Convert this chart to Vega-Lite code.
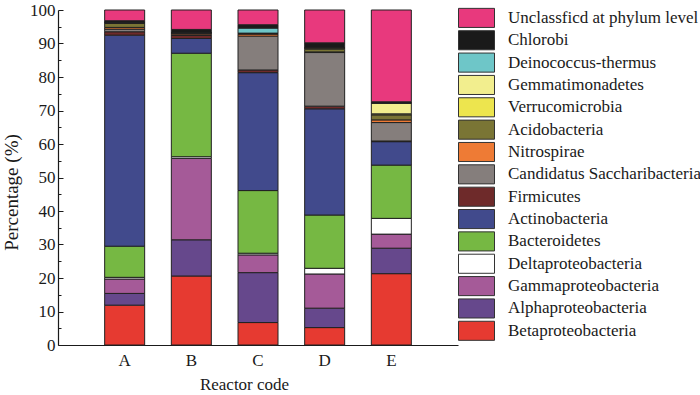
{
  "$schema": "https://vega.github.io/schema/vega-lite/v6.json",
  "autosize": "none",
  "padding": {"left": 58, "top": 10, "right": 242, "bottom": 50},
  "width": 400,
  "height": 335,
  "config": {
    "view": {"stroke": null},
    "font": "Liberation Serif",
    "axis": {"labelFont": "Liberation Serif", "titleFont": "Liberation Serif", "labelFontSize": 17, "titleFontSize": 17, "titleFontWeight": "normal", "labelColor": "#1a1a1a", "titleColor": "#1a1a1a", "domainColor": "#1a1a1a", "tickColor": "#1a1a1a", "domainWidth": 1.2, "grid": false},
    "legend": {"labelFont": "Liberation Serif", "labelFontSize": 17, "labelColor": "#1a1a1a"}
  },
  "data": {"values": [
    {"reactor": "A", "phylum": "Betaproteobacteria", "value": 11.9},
    {"reactor": "A", "phylum": "Alphaproteobacteria", "value": 3.5},
    {"reactor": "A", "phylum": "Gammaproteobacteria", "value": 4.3},
    {"reactor": "A", "phylum": "Deltaproteobacteria", "value": 0.5},
    {"reactor": "A", "phylum": "Bacteroidetes", "value": 9.3},
    {"reactor": "A", "phylum": "Actinobacteria", "value": 63.0},
    {"reactor": "A", "phylum": "Firmicutes", "value": 1.0},
    {"reactor": "A", "phylum": "Candidatus Saccharibacteria", "value": 0.8},
    {"reactor": "A", "phylum": "Nitrospirae", "value": 0.5},
    {"reactor": "A", "phylum": "Acidobacteria", "value": 1.2},
    {"reactor": "A", "phylum": "Verrucomicrobia", "value": 0.2},
    {"reactor": "A", "phylum": "Gemmatimonadetes", "value": 0},
    {"reactor": "A", "phylum": "Deinococcus-thermus", "value": 0},
    {"reactor": "A", "phylum": "Chlorobi", "value": 0.6},
    {"reactor": "A", "phylum": "Unclassficd at phylum level", "value": 3.2},

    {"reactor": "B", "phylum": "Betaproteobacteria", "value": 20.6},
    {"reactor": "B", "phylum": "Alphaproteobacteria", "value": 10.8},
    {"reactor": "B", "phylum": "Gammaproteobacteria", "value": 24.3},
    {"reactor": "B", "phylum": "Deltaproteobacteria", "value": 0.5},
    {"reactor": "B", "phylum": "Bacteroidetes", "value": 30.9},
    {"reactor": "B", "phylum": "Actinobacteria", "value": 4.4},
    {"reactor": "B", "phylum": "Firmicutes", "value": 0.9},
    {"reactor": "B", "phylum": "Candidatus Saccharibacteria", "value": 0.2},
    {"reactor": "B", "phylum": "Nitrospirae", "value": 0.5},
    {"reactor": "B", "phylum": "Acidobacteria", "value": 0.1},
    {"reactor": "B", "phylum": "Verrucomicrobia", "value": 0},
    {"reactor": "B", "phylum": "Gemmatimonadetes", "value": 0},
    {"reactor": "B", "phylum": "Deinococcus-thermus", "value": 0},
    {"reactor": "B", "phylum": "Chlorobi", "value": 1.0},
    {"reactor": "B", "phylum": "Unclassficd at phylum level", "value": 5.8},

    {"reactor": "C", "phylum": "Betaproteobacteria", "value": 6.7},
    {"reactor": "C", "phylum": "Alphaproteobacteria", "value": 14.9},
    {"reactor": "C", "phylum": "Gammaproteobacteria", "value": 5.3},
    {"reactor": "C", "phylum": "Deltaproteobacteria", "value": 0.5},
    {"reactor": "C", "phylum": "Bacteroidetes", "value": 18.7},
    {"reactor": "C", "phylum": "Actinobacteria", "value": 35.2},
    {"reactor": "C", "phylum": "Firmicutes", "value": 0.8},
    {"reactor": "C", "phylum": "Candidatus Saccharibacteria", "value": 10.1},
    {"reactor": "C", "phylum": "Nitrospirae", "value": 0.6},
    {"reactor": "C", "phylum": "Acidobacteria", "value": 0.3},
    {"reactor": "C", "phylum": "Verrucomicrobia", "value": 0},
    {"reactor": "C", "phylum": "Gemmatimonadetes", "value": 0},
    {"reactor": "C", "phylum": "Deinococcus-thermus", "value": 1.5},
    {"reactor": "C", "phylum": "Chlorobi", "value": 1.0},
    {"reactor": "C", "phylum": "Unclassficd at phylum level", "value": 4.4},

    {"reactor": "D", "phylum": "Betaproteobacteria", "value": 5.2},
    {"reactor": "D", "phylum": "Alphaproteobacteria", "value": 5.8},
    {"reactor": "D", "phylum": "Gammaproteobacteria", "value": 10.2},
    {"reactor": "D", "phylum": "Deltaproteobacteria", "value": 1.7},
    {"reactor": "D", "phylum": "Bacteroidetes", "value": 15.9},
    {"reactor": "D", "phylum": "Actinobacteria", "value": 31.7},
    {"reactor": "D", "phylum": "Firmicutes", "value": 0.8},
    {"reactor": "D", "phylum": "Candidatus Saccharibacteria", "value": 16.0},
    {"reactor": "D", "phylum": "Nitrospirae", "value": 0.2},
    {"reactor": "D", "phylum": "Acidobacteria", "value": 0.8},
    {"reactor": "D", "phylum": "Verrucomicrobia", "value": 0.4},
    {"reactor": "D", "phylum": "Gemmatimonadetes", "value": 0},
    {"reactor": "D", "phylum": "Deinococcus-thermus", "value": 0},
    {"reactor": "D", "phylum": "Chlorobi", "value": 1.5},
    {"reactor": "D", "phylum": "Unclassficd at phylum level", "value": 9.8},

    {"reactor": "E", "phylum": "Betaproteobacteria", "value": 21.3},
    {"reactor": "E", "phylum": "Alphaproteobacteria", "value": 7.6},
    {"reactor": "E", "phylum": "Gammaproteobacteria", "value": 4.2},
    {"reactor": "E", "phylum": "Deltaproteobacteria", "value": 4.7},
    {"reactor": "E", "phylum": "Bacteroidetes", "value": 15.9},
    {"reactor": "E", "phylum": "Actinobacteria", "value": 7.0},
    {"reactor": "E", "phylum": "Firmicutes", "value": 0.2},
    {"reactor": "E", "phylum": "Candidatus Saccharibacteria", "value": 5.5},
    {"reactor": "E", "phylum": "Nitrospirae", "value": 0.8},
    {"reactor": "E", "phylum": "Acidobacteria", "value": 1.5},
    {"reactor": "E", "phylum": "Verrucomicrobia", "value": 0.3},
    {"reactor": "E", "phylum": "Gemmatimonadetes", "value": 3.2},
    {"reactor": "E", "phylum": "Deinococcus-thermus", "value": 0},
    {"reactor": "E", "phylum": "Chlorobi", "value": 0.4},
    {"reactor": "E", "phylum": "Unclassficd at phylum level", "value": 27.4}
  ]},
  "transform": [
    {"calculate": "indexof(['Betaproteobacteria','Alphaproteobacteria','Gammaproteobacteria','Deltaproteobacteria','Bacteroidetes','Actinobacteria','Firmicutes','Candidatus Saccharibacteria','Nitrospirae','Acidobacteria','Verrucomicrobia','Gemmatimonadetes','Deinococcus-thermus','Chlorobi','Unclassficd at phylum level'], datum.phylum)", "as": "stackRank"}
  ],
  "mark": {"type": "bar", "stroke": "#222222", "strokeWidth": 1},
  "encoding": {
    "x": {
      "field": "reactor", "type": "nominal",
      "scale": {"paddingInner": 0.4, "paddingOuter": 0.7},
      "axis": {"title": "Reactor code", "titleX": 186, "labelAngle": 0, "ticks": false, "labelPadding": 7, "titlePadding": 8}
    },
    "y": {
      "field": "value", "type": "quantitative", "stack": "zero",
      "scale": {"domain": [0, 100], "nice": false},
      "axis": {
        "title": "Percentage (%)",
        "titleFontSize": 19,
        "titleY": 182,
        "values": [0, 5, 10, 15, 20, 25, 30, 35, 40, 45, 50, 55, 60, 65, 70, 75, 80, 85, 90, 95, 100],
        "labelExpr": "datum.value % 10 === 0 ? datum.label : ''",
        "tickSize": {"condition": {"test": "datum.value % 10 === 0", "value": -5}, "value": -3},
        "labelPadding": 8,
        "titlePadding": 8
      }
    },
    "color": {
      "field": "phylum", "type": "nominal",
      "scale": {
        "domain": ["Unclassficd at phylum level", "Chlorobi", "Deinococcus-thermus", "Gemmatimonadetes", "Verrucomicrobia", "Acidobacteria", "Nitrospirae", "Candidatus Saccharibacteria", "Firmicutes", "Actinobacteria", "Bacteroidetes", "Deltaproteobacteria", "Gammaproteobacteria", "Alphaproteobacteria", "Betaproteobacteria"],
        "range": ["#E8397D", "#1a1a1a", "#6EC6C8", "#F2EE8E", "#EDE54E", "#7A7535", "#EE7B35", "#857E7C", "#6E2A2A", "#414A8C", "#76B843", "#FFFFFF", "#A55A98", "#66488C", "#E63A31"]
      },
      "legend": {
        "title": null,
        "orient": "none",
        "legendX": 400,
        "legendY": -3,
        "padding": 0,
        "symbolType": "M-1,-0.53H1V0.53H-1Z",
        "symbolSize": 1296,
        "symbolStrokeColor": "#333333",
        "symbolStrokeWidth": 1,
        "symbolOpacity": 1,
        "labelOffset": 13,
        "clipHeight": 21.8,
        "rowPadding": 0.35,
        "labelLimit": 300
      }
    },
    "order": {"field": "stackRank", "type": "quantitative", "sort": "ascending"}
  }
}
